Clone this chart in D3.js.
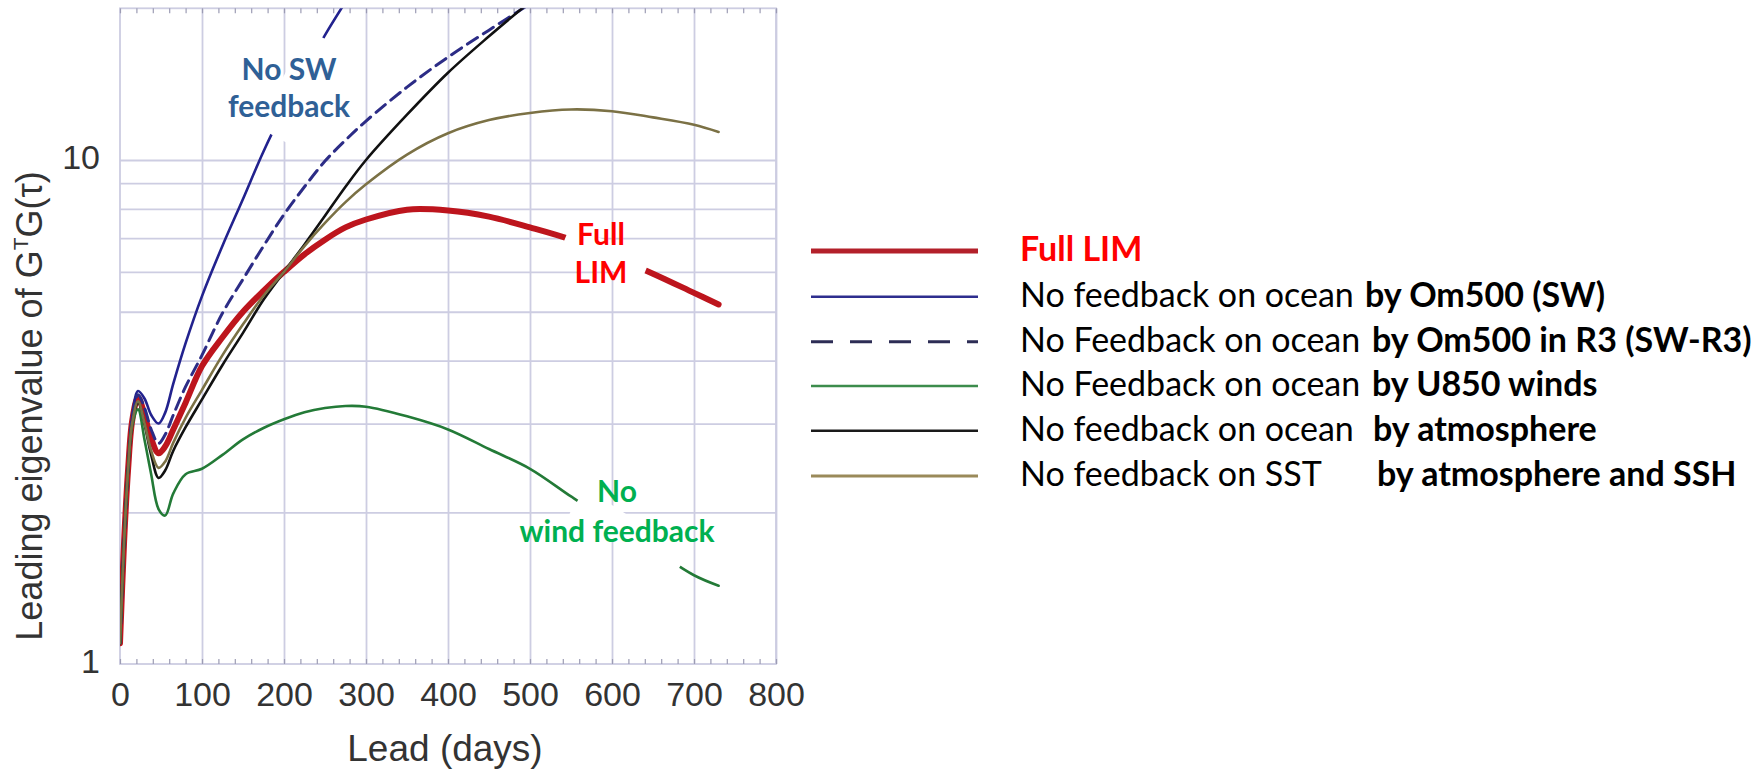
<!DOCTYPE html>
<html>
<head>
<meta charset="utf-8">
<script src="https://cdn.jsdelivr.net/npm/d3@7"></script>
<style>
  html, body { margin: 0; padding: 0; background: #fff; }
  svg { display: block; }
</style>
</head>
<body>
<svg id="chart" width="1758" height="779"></svg>
<script>
// Lead times (days) at which the eigenvalue curves are sampled
const leadDays = [0, 5, 10, 15, 22, 30, 38, 47, 55, 65, 80, 100, 125, 150, 175, 200, 225, 250, 275, 300, 350, 400, 450, 500, 550, 600, 650, 700, 730];

// Leading eigenvalue of G^T G(tau) for each experiment (null = beyond the plotted range)
const fullLim       = [1.1, 1.75, 2.45, 3.05, 3.38, 3.12, 2.8, 2.62, 2.7, 2.92, 3.3, 3.9, 4.45, 5.0, 5.5, 6.0, 6.5, 6.95, 7.35, 7.62, 7.97, 7.94, 7.72, 7.35, 6.95, 6.45, 5.95, 5.45, 5.17];
const noSw          = [1.1, 1.75, 2.45, 3.1, 3.48, 3.36, 3.12, 3.0, 3.15, 3.6, 4.33, 5.37, 6.76, 8.37, 10.4, 12.6, 15.0, 17.7, 20.6, null, null, null, null, null, null, null, null, null, null];
const noSwR3        = [1.1, 1.75, 2.45, 3.08, 3.42, 3.22, 2.92, 2.74, 2.85, 3.12, 3.55, 4.1, 4.97, 5.8, 6.75, 7.8, 8.85, 9.95, 10.95, 11.95, 13.95, 16.0, 18.1, 20.4, null, null, null, null, null];
const noWind        = [1.1, 1.75, 2.45, 2.98, 3.2, 2.78, 2.38, 2.03, 1.97, 2.18, 2.38, 2.44, 2.6, 2.79, 2.94, 3.06, 3.16, 3.22, 3.25, 3.24, 3.1, 2.92, 2.67, 2.44, 2.15, 1.9, 1.69, 1.5, 1.43];
const noAtmosphere  = [1.1, 1.75, 2.45, 3.0, 3.3, 2.98, 2.6, 2.34, 2.42, 2.65, 2.95, 3.35, 3.92, 4.54, 5.28, 6.0, 6.8, 7.75, 8.85, 10.0, 12.3, 14.9, 17.6, 20.6, null, null, null, null, null];
const noSstFeedback = [1.1, 1.75, 2.45, 3.02, 3.32, 3.0, 2.65, 2.45, 2.52, 2.75, 3.08, 3.5, 4.1, 4.72, 5.38, 6.0, 6.75, 7.5, 8.25, 8.95, 10.25, 11.3, 12.0, 12.4, 12.6, 12.5, 12.15, 11.75, 11.37];

// Axis ticks
const xTickValues = [0, 100, 200, 300, 400, 500, 600, 700, 800];
const yTickValues = [1, 10];
const yGridValues = [2, 3, 4, 5, 6, 7, 8, 9, 10];

// Legend text: plain part and bold part of each entry
const legendPlain = ["Full LIM", "No feedback on ocean", "No Feedback on ocean", "No Feedback on ocean", "No feedback on ocean", "No feedback on SST"];
const legendBold  = ["", "by Om500 (SW)", "by Om500 in R3  (SW-R3)", "by U850 winds", "by atmosphere", "by atmosphere and SSH"];

// In-plot labels
const swLabel   = ["No SW", "feedback"];
const limLabel  = ["Full", "LIM"];
const windLabel = ["No", "wind feedback"];

// ---------------------------------------------------------------------------
const svg = d3.select("#chart");
const W = 1758, H = 779;
svg.append("rect").attr("width", W).attr("height", H).attr("fill", "#fff");

const plot = { left: 120, right: 776, top: 8.3, bottom: 664 };
const x = d3.scaleLinear().domain([0, 800]).range([plot.left, plot.right]);
const y = d3.scaleLog().domain([1, 20]).range([plot.bottom, plot.top]);

const gridColor = "#cdcde2";
const tickColor = "#9c9cb4";
const axisFont = "'Liberation Sans', Arial, sans-serif";

// Grid lines
const gx = svg.append("g").attr("transform", `translate(0,${plot.bottom})`)
  .call(d3.axisBottom(x).tickValues(xTickValues.slice(1)).tickSize(-(plot.bottom - plot.top)).tickFormat(""));
gx.select(".domain").remove();
gx.selectAll("line").attr("stroke", gridColor).attr("stroke-width", 1.8);

const gy = svg.append("g").attr("transform", `translate(${plot.left},0)`)
  .call(d3.axisLeft(y).tickValues(yGridValues).tickSize(-(plot.right - plot.left)).tickFormat(""));
gy.select(".domain").remove();
gy.selectAll("line").attr("stroke", gridColor).attr("stroke-width", 1.8);

// Frame
svg.append("rect")
  .attr("x", plot.left).attr("y", plot.top)
  .attr("width", plot.right - plot.left).attr("height", plot.bottom - plot.top)
  .attr("fill", "none").attr("stroke", gridColor).attr("stroke-width", 1.8);

// Minor ticks on the top and bottom edges every 20 days
const minorTicks = d3.range(0, 801, 20);
const tb = svg.append("g").attr("transform", `translate(0,${plot.bottom})`)
  .call(d3.axisBottom(x).tickValues(minorTicks).tickSize(-5).tickFormat(""));
tb.select(".domain").remove();
tb.selectAll("line").attr("stroke", tickColor).attr("stroke-width", 1.2);
const tt = svg.append("g").attr("transform", `translate(0,${plot.top})`)
  .call(d3.axisTop(x).tickValues(minorTicks).tickSize(-5).tickFormat(""));
tt.select(".domain").remove();
tt.selectAll("line").attr("stroke", tickColor).attr("stroke-width", 1.2);

// Tick labels
const xa = svg.append("g").attr("transform", `translate(0,${plot.bottom})`)
  .call(d3.axisBottom(x).tickValues(xTickValues).tickSize(0).tickPadding(18).tickFormat(d3.format("d")));
xa.select(".domain").remove();
xa.selectAll("text").attr("font-family", axisFont).attr("font-size", 34).attr("fill", "#333");

const ya = svg.append("g").attr("transform", `translate(${plot.left},0)`)
  .call(d3.axisLeft(y).tickValues(yTickValues).tickSize(0).tickPadding(20).tickFormat(d3.format("d")));
ya.select(".domain").remove();
ya.selectAll("text").attr("font-family", axisFont).attr("font-size", 34).attr("fill", "#333").attr("dy", "0.25em");

// Axis titles
svg.append("text")
  .attr("x", 445).attr("y", 761)
  .attr("text-anchor", "middle")
  .attr("font-family", axisFont).attr("font-size", 37).attr("fill", "#333")
  .text("Lead (days)");

const yTitle = svg.append("text")
  .attr("transform", "translate(42,406) rotate(-90)")
  .attr("text-anchor", "middle")
  .attr("font-family", axisFont).attr("font-size", 36).attr("fill", "#333");
yTitle.append("tspan").text("Leading eigenvalue of G");
yTitle.append("tspan").attr("font-size", 21).attr("dy", -14).text("T");
yTitle.append("tspan").attr("dy", 14).text("G(\u03c4)");

// Curves
svg.append("clipPath").attr("id", "plotClip")
  .append("rect")
  .attr("x", plot.left).attr("y", plot.top)
  .attr("width", plot.right - plot.left).attr("height", plot.bottom - plot.top);

const series = [
  { values: fullLim,       color: "#bd151d", width: 6,   dash: null },
  { values: noSw,          color: "#22228e", width: 2.6, dash: null },
  { values: noSwR3,        color: "#2c2c86", width: 3,   dash: "12 7" },
  { values: noAtmosphere,  color: "#111111", width: 2.6, dash: null },
  { values: noWind,        color: "#237a37", width: 2.6, dash: null },
  { values: noSstFeedback, color: "#7b7145", width: 2.6, dash: null }
];

const line = d3.line()
  .defined(d => d[1] != null)
  .x(d => x(d[0]))
  .y(d => y(d[1]))
  .curve(d3.curveCatmullRom.alpha(0.5));

const curves = svg.append("g").attr("clip-path", "url(#plotClip)");
series.forEach(s => {
  curves.append("path")
    .datum(leadDays.map((l, i) => [l, s.values[i]]))
    .attr("d", line)
    .attr("fill", "none")
    .attr("stroke", s.color)
    .attr("stroke-width", s.width)
    .attr("stroke-linecap", "round")
    .attr("stroke-linejoin", "round")
    .attr("stroke-dasharray", s.dash);
});

// Value of a curve at any lead (log-linear between samples)
function valueAt(values, lead) {
  for (let i = 0; i < leadDays.length - 1; i++) {
    if (lead >= leadDays[i] && lead <= leadDays[i + 1]) {
      const a = values[i], b = values[i + 1];
      const t = (lead - leadDays[i]) / (leadDays[i + 1] - leadDays[i]);
      return Math.exp(Math.log(a) + t * (Math.log(b) - Math.log(a)));
    }
  }
  return values[values.length - 1];
}

// White strip laid along a curve between two leads, so a label can sit on it
function labelStrip(values, l1, l2, thickness) {
  const p1 = [x(l1), y(valueAt(values, l1))];
  const p2 = [x(l2), y(valueAt(values, l2))];
  const cx = (p1[0] + p2[0]) / 2, cy = (p1[1] + p2[1]) / 2;
  const len = Math.hypot(p2[0] - p1[0], p2[1] - p1[1]);
  const ang = Math.atan2(p2[1] - p1[1], p2[0] - p1[0]) * 180 / Math.PI;
  svg.append("rect")
    .attr("transform", `translate(${cx},${cy}) rotate(${ang})`)
    .attr("x", -len / 2).attr("y", -thickness / 2)
    .attr("width", len).attr("height", thickness)
    .attr("fill", "#fff");
}

labelStrip(noSw, 185, 248, 34);
labelStrip(fullLim, 543, 641, 26);
labelStrip(noWind, 558, 683, 30);

const labelFont = "Lato, 'Open Sans', sans-serif";
function twoLineLabel(lines, cx, baselines, color) {
  lines.forEach((t, i) => {
    svg.append("text")
      .attr("x", cx).attr("y", baselines[i])
      .attr("text-anchor", "middle")
      .attr("font-family", labelFont).attr("font-weight", 700)
      .attr("font-size", 30).attr("fill", color)
      .text(t);
  });
}
twoLineLabel(swLabel, 289, [80, 116.7], "#2f6096");
twoLineLabel(limLabel, 601, [245, 282.7], "#ff0000");
twoLineLabel(windLabel, 617, [501.7, 541.7], "#00b050");

// Legend
const legendStyles = [
  { color: "#b3202a", width: 5,   dash: null },
  { color: "#2e2e8e", width: 2.6, dash: null },
  { color: "#2d2d55", width: 3,   dash: "22 17" },
  { color: "#3c8c4c", width: 2.6, dash: null },
  { color: "#1a1a1a", width: 2.6, dash: null },
  { color: "#9a8a5a", width: 3,   dash: null }
];
const legendBaselines = [261, 306.7, 351.7, 396, 440.7, 486];
const legendBoldX = [null, 1365, 1372, 1372, 1373, 1377];

const legend = svg.append("g");
legendPlain.forEach((name, i) => {
  const st = legendStyles[i];
  legend.append("line")
    .attr("x1", 811).attr("x2", 978)
    .attr("y1", legendBaselines[i] - 10).attr("y2", legendBaselines[i] - 10)
    .attr("stroke", st.color).attr("stroke-width", st.width)
    .attr("stroke-dasharray", st.dash);

  legend.append("text")
    .attr("x", 1020).attr("y", legendBaselines[i])
    .attr("font-family", labelFont).attr("font-size", 34)
    .attr("fill", i === 0 ? "#ff0000" : "#000")
    .attr("font-weight", i === 0 ? 700 : 400)
    .text(name);
  if (legendBold[i]) {
    legend.append("text")
      .attr("x", legendBoldX[i]).attr("y", legendBaselines[i])
      .attr("font-family", labelFont).attr("font-size", 34)
      .attr("font-weight", 700).attr("fill", "#000")
      .text(legendBold[i]);
  }
});
</script>
</body>
</html>
